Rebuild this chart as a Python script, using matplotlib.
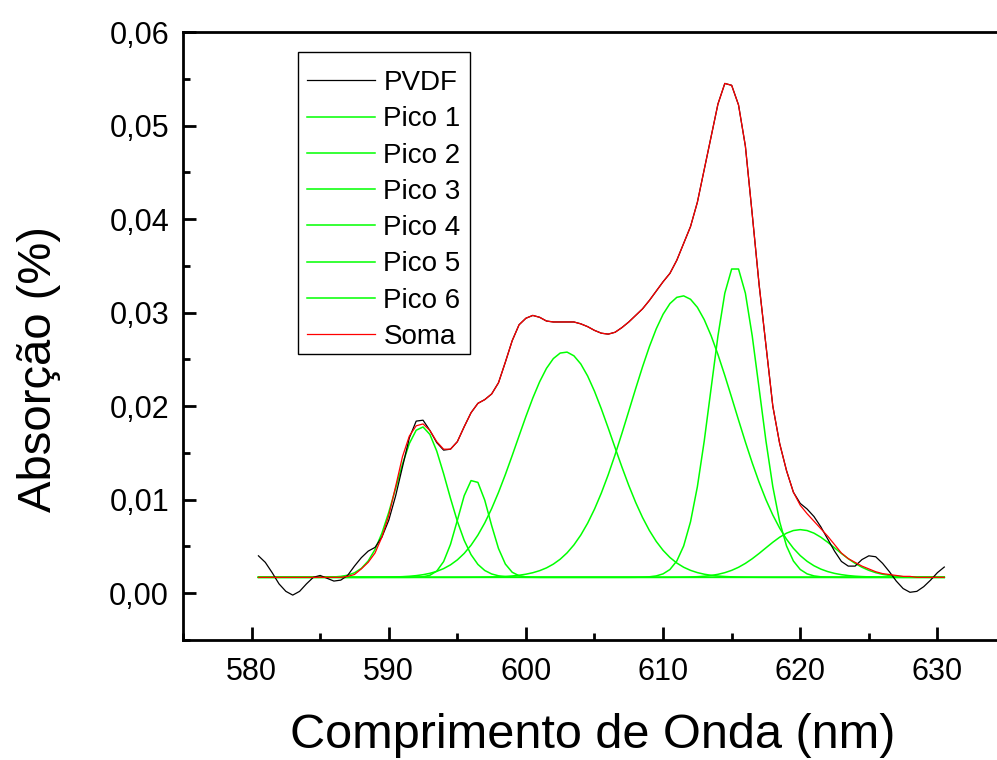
import numpy as np
import matplotlib
matplotlib.use("Agg")
import matplotlib.pyplot as plt
from matplotlib.ticker import MultipleLocator
from matplotlib.patches import Rectangle

plt.rcParams['font.family'] = ['Liberation Sans', 'DejaVu Sans']

# Wavelength grid (nm), 0.5 nm step
wavelength = np.arange(580.5, 630.51, 0.5)

# Measured PVDF absorption
pvdf = [
    0.0040, 0.0033, 0.0022, 0.0010, 0.0002, -0.0002, 0.0002, 0.0010, 0.0017, 0.0019,
    0.0016, 0.0013, 0.0014, 0.0019, 0.0029, 0.0038, 0.0045, 0.0049, 0.0060, 0.0078,
    0.0104, 0.0135, 0.0166, 0.0184, 0.0185, 0.0174, 0.0161, 0.0153, 0.0154, 0.0162,
    0.0178, 0.0193, 0.0203, 0.0207, 0.0213, 0.0225, 0.0247, 0.0270, 0.0287, 0.0294,
    0.0297, 0.0295, 0.0291, 0.0290, 0.0290, 0.0290, 0.0290, 0.0288, 0.0285, 0.0281,
    0.0278, 0.0277, 0.0279, 0.0284, 0.0290, 0.0297, 0.0304, 0.0313, 0.0323, 0.0333,
    0.0342, 0.0356, 0.0374, 0.0392, 0.0418, 0.0453, 0.0488, 0.0523, 0.0545, 0.0543,
    0.0522, 0.0478, 0.0405, 0.0330, 0.0265, 0.0200, 0.0160, 0.0131, 0.0108, 0.0096,
    0.0090, 0.0082, 0.0071, 0.0058, 0.0045, 0.0034, 0.0029, 0.0029, 0.0036, 0.0040,
    0.0039, 0.0032, 0.0023, 0.0013, 0.0005, 0.0001, 0.0002, 0.0007, 0.0014, 0.0022,
    0.0028,
]

# Cumulative fit curve
soma = [
    0.0017, 0.0017, 0.0017, 0.0017, 0.0017, 0.0017, 0.0017, 0.0017, 0.0017, 0.0017,
    0.0017, 0.0017, 0.0017, 0.0018, 0.0020, 0.0026, 0.0033, 0.0043, 0.0060, 0.0083,
    0.0114, 0.0146, 0.0168, 0.0179, 0.0181, 0.0174, 0.0162, 0.0154, 0.0154, 0.0162,
    0.0178, 0.0193, 0.0203, 0.0207, 0.0213, 0.0225, 0.0247, 0.0270, 0.0287, 0.0294,
    0.0297, 0.0295, 0.0291, 0.0290, 0.0290, 0.0290, 0.0290, 0.0288, 0.0285, 0.0281,
    0.0278, 0.0277, 0.0279, 0.0284, 0.0290, 0.0297, 0.0304, 0.0313, 0.0323, 0.0333,
    0.0342, 0.0356, 0.0374, 0.0392, 0.0418, 0.0453, 0.0488, 0.0523, 0.0545, 0.0543,
    0.0522, 0.0478, 0.0405, 0.0330, 0.0265, 0.0200, 0.0160, 0.0131, 0.0108, 0.0094,
    0.0085, 0.0077, 0.0069, 0.0061, 0.0052, 0.0043, 0.0037, 0.0033, 0.0029, 0.0026,
    0.0023, 0.0021, 0.0020, 0.0019, 0.0018, 0.0018, 0.0017, 0.0017, 0.0017, 0.0017,
    0.0017,
]

# Gaussian components of the fit
peak_names = ["Pico 1", "Pico 2", "Pico 3", "Pico 4", "Pico 5", "Pico 6"]
peak_centers = [592.4, 596.2, 602.85, 611.4, 615.25, 620.0]
peak_heights = [0.0161, 0.0105, 0.0241, 0.0301, 0.0333, 0.0051]
peak_sigmas = [1.85, 1.15, 3.47, 3.8, 1.75, 2.55]
baseline = 0.0017

xtick_vals = [580, 590, 600, 610, 620, 630]
ytick_vals = [0.00, 0.01, 0.02, 0.03, 0.04, 0.05, 0.06]
ytick_labels = ["0,00", "0,01", "0,02", "0,03", "0,04", "0,05", "0,06"]

W, H = 997, 760
fig = plt.figure(figsize=(W / 100, H / 100), dpi=100)
ax = fig.add_axes([183 / W, 120 / H, 823 / W, 608 / H])

green = "#00ff00"
peak_lines = []
for name, c, h, s in zip(peak_names, peak_centers, peak_heights, peak_sigmas):
    curve = baseline + h * np.exp(-0.5 * ((wavelength - c) / s) ** 2)
    ln, = ax.plot(wavelength, curve, color=green, lw=1.1, label=name)
    peak_lines.append(ln)

pvdf_line, = ax.plot(wavelength, pvdf, color="black", lw=0.9, label="PVDF")
soma_line, = ax.plot(wavelength, soma, color="#ff0000", lw=0.9, label="Soma")

ax.set_xlim(575, 635)
ax.set_ylim(-0.005, 0.06)
ax.set_xticks(xtick_vals)
ax.xaxis.set_minor_locator(MultipleLocator(5))
ax.set_yticks(ytick_vals)
ax.set_yticklabels(ytick_labels)
ax.yaxis.set_minor_locator(MultipleLocator(0.005))

for side in ("left", "bottom", "top"):
    ax.spines[side].set_linewidth(2)
ax.spines["right"].set_visible(False)

ax.tick_params(which="both", direction="in", width=2, top=False, right=False,
               labelsize=22)
ax.tick_params(which="major", length=9.5)
ax.tick_params(which="minor", length=5)
ax.tick_params(axis="x", which="major", pad=12)
ax.tick_params(axis="y", which="major", pad=10)

# Legend frame
ax.add_patch(Rectangle((298 / W, 1 - 354 / H), 172 / W, 302 / H,
                       transform=fig.transFigure, facecolor="white",
                       edgecolor="black", lw=1.0, zorder=4, clip_on=False))

handles = [pvdf_line] + peak_lines + [soma_line]
leg = ax.legend(handles, [h.get_label() for h in handles],
                loc="upper left", bbox_to_anchor=(307 / W, 1 - 70 / H),
                bbox_transform=fig.transFigure, borderaxespad=0,
                frameon=False, fontsize=20, handlelength=2.43,
                handletextpad=0.32, labelspacing=0.37, borderpad=0)
leg.set_zorder(5)

fig.text(593 / W, 1 - 736 / H, "Comprimento de Onda (nm)", fontsize=35,
         ha="center", va="center")
fig.text(39 / W, 1 - 369 / H, "Absorção (%)", fontsize=34, rotation=90,
         ha="center", va="center")

fig.savefig("out.png", dpi=100)
